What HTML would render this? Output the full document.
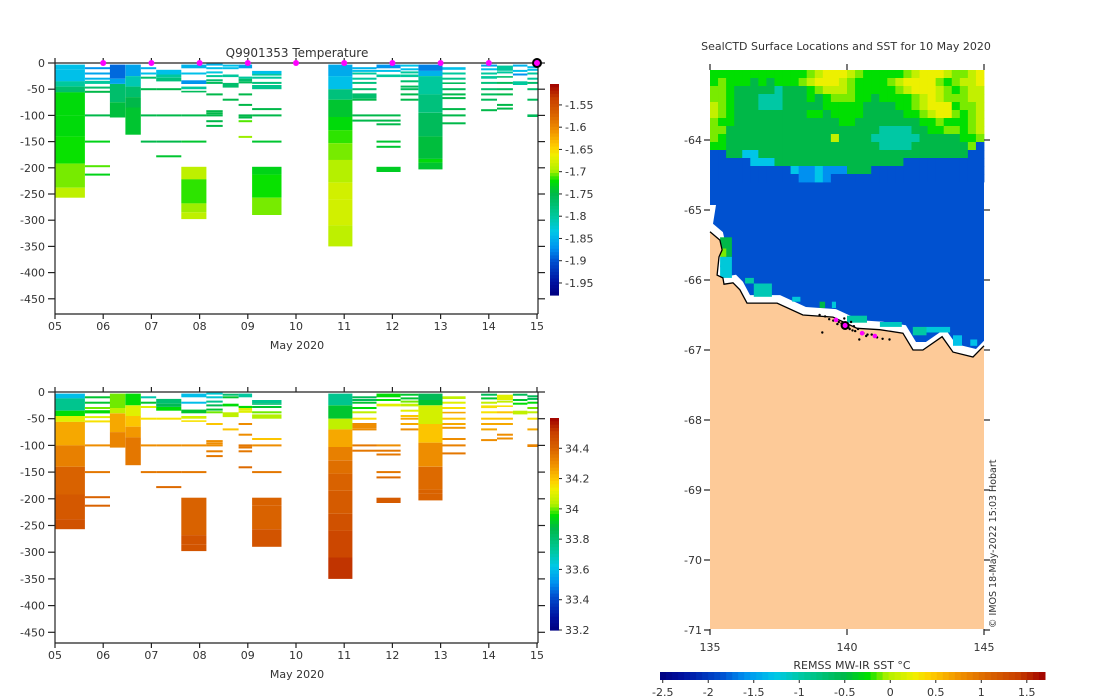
<!DOCTYPE html>
<html><head><meta charset="utf-8">
<style>
html,body{margin:0;padding:0;background:#fff;}
svg{display:block;font-family:"DejaVu Sans","Liberation Sans",sans-serif;}
text{fill:#333;font-size:11px;}
</style></head>
<body>
<svg id="fig" width="1100" height="700" viewBox="0 0 1100 700" xmlns="http://www.w3.org/2000/svg">
<g id="temp-chart"></g>
<g id="sal-chart"></g>
<g id="map"></g>
<text x="297" y="57" text-anchor="middle" style="font-size:12px">Q9901353  Temperature</text>
<text x="297" y="349" text-anchor="middle">May 2020</text>
<text x="297" y="678" text-anchor="middle">May 2020</text>
<text x="846" y="50" text-anchor="middle">SealCTD Surface Locations and SST for 10 May 2020</text>
<text x="852" y="669" text-anchor="middle">REMSS MW-IR SST °C</text>
<text transform="translate(996,628) rotate(-90)" style="font-size:9.5px">© IMOS 18-May-2022 15:03 Hobart</text>
</svg>
<script>
// ---------- data ----------
const dayTicks = ["05","06","07","08","09","10","11","12","13","14","15"];
const depthTicks = [0,50,100,150,200,250,300,350,400,450];
const tempCbTicks = [-1.55,-1.6,-1.65,-1.7,-1.75,-1.8,-1.85,-1.9,-1.95];
const salCbTicks = [34.4,34.2,34,33.8,33.6,33.4,33.2];
const sstCbTicks = [-2.5,-2,-1.5,-1,-0.5,0,0.5,1,1.5];
const surfaceDays = [6,7,8,9,10,11,12,13,14];
const latTicks = [-64,-65,-66,-67,-68,-69,-70,-71];
const lonTicks = [135,140,145];
const profStart = [5.0,5.62,6.14,6.46,6.78,7.1,7.62,8.14,8.48,8.81,9.09,10.67,11.17,11.67,12.17,12.54,13.04,13.84,14.17,14.5,14.8];
const profEnd   = [5.62,6.14,6.46,6.78,7.1,7.62,8.14,8.48,8.81,9.09,9.7,11.17,11.67,12.17,12.54,13.04,13.52,14.17,14.5,14.8,15.03];
// blocks: [top, bottom, temp, sal]; thin lines: [depth, temp, sal]
const profSegs = [
 [[3,12,-1.84,33.6],[12,35,-1.84,33.75],[35,45,-1.8,33.95],[45,56,-1.77,34.1],[56,100,-1.725,34.25],[100,140,-1.725,34.33],[140,192,-1.72,34.4],[192,238,-1.705,34.43],[238,257,-1.69,34.45]],
 [[10,-1.87,33.9],[20,-1.86,33.9],[30,-1.85,34.0],[34,40,-1.8,33.95],[47,-1.77,34.1],[55,-1.75,34.15],[100,-1.75,34.3],[150,-1.73,34.35],[197,-1.71,34.4],[213,-1.73,34.4]],
 [[3,30,-1.89,34.0],[30,40,-1.86,34.05],[40,75,-1.77,34.25],[75,104,-1.745,34.32]],
 [[3,25,-1.86,33.95],[25,45,-1.81,34.1],[45,65,-1.77,34.2],[65,85,-1.75,34.28],[85,137,-1.74,34.35]],
 [[10,-1.85,33.7],[20,-1.84,33.9],[28,-1.77,34.1],[50,-1.75,34.15],[100,-1.75,34.3],[150,-1.75,34.35]],
 [[13,22,-1.84,33.8],[22,28,-1.8,33.85],[28,35,-1.78,33.95],[50,-1.75,34.15],[100,-1.75,34.3],[150,-1.75,34.35],[178,-1.74,34.38]],
 [[3,10,-1.85,33.6],[20,-1.84,33.6],[33,40,-1.87,33.9],[45,50,-1.8,34.08],[53,56,-1.76,34.15],[100,-1.75,34.3],[150,-1.74,34.35],[198,222,-1.69,34.4],[222,268,-1.715,34.4],[268,285,-1.7,34.44],[285,298,-1.69,34.44]],
 [[3,-1.85,33.65],[10,-1.84,33.65],[18,-1.83,33.75],[25,-1.8,33.85],[33,-1.77,33.9],[38,-1.76,34.0],[60,-1.75,34.2],[92,-1.75,34.3],[96,-1.75,34.3],[100,-1.75,34.3],[111,-1.75,34.33],[120,-1.75,34.35]],
 [[5,-1.84,33.8],[10,-1.84,33.9],[22,27,-1.8,33.95],[38,47,-1.77,34.05],[70,-1.75,34.2]],
 [[3,10,-1.86,33.72],[26,30,-1.8,33.95],[30,35,-1.77,34.1],[37,-1.76,34.1],[60,-1.75,34.3],[80,-1.75,34.3],[100,-1.75,34.35],[104,-1.75,34.35],[111,-1.71,34.35],[141,-1.7,34.38]],
 [[15,21,-1.84,33.75],[21,24,-1.8,33.8],[28,-1.8,33.9],[38,-1.78,34.0],[42,50,-1.79,34.03],[88,-1.75,34.2],[100,-1.75,34.3],[150,-1.74,34.35],[198,213,-1.73,34.4],[213,257,-1.72,34.4],[257,290,-1.705,34.44]],
 [[3,25,-1.855,33.75],[25,50,-1.84,33.9],[50,70,-1.78,34.05],[70,103,-1.74,34.25],[103,128,-1.725,34.33],[128,153,-1.715,34.37],[153,185,-1.705,34.4],[185,228,-1.695,34.42],[228,260,-1.68,34.45],[260,310,-1.68,34.48],[310,350,-1.69,34.52]],
 [[10,-1.85,33.85],[15,-1.84,33.85],[20,-1.8,33.9],[30,-1.8,33.95],[38,-1.78,34.05],[50,-1.77,34.15],[58,68,-1.77,34.3],[70,-1.75,34.3],[100,-1.75,34.35],[110,-1.75,34.35]],
 [[3,10,-1.87,33.95],[15,-1.84,33.95],[22,27,-1.8,34.1],[100,-1.75,34.3],[110,-1.75,34.35],[117,-1.75,34.35],[150,-1.74,34.35],[160,-1.74,34.38],[198,208,-1.735,34.42]],
 [[5,-1.84,33.9],[12,-1.84,33.9],[18,-1.8,34.0],[22,27,-1.8,34.05],[35,-1.77,34.1],[45,-1.76,34.2],[50,-1.76,34.25],[60,-1.75,34.25],[70,-1.75,34.3]],
 [[3,15,-1.88,33.85],[15,25,-1.85,33.9],[25,60,-1.8,34.08],[60,95,-1.78,34.2],[95,140,-1.76,34.3],[140,183,-1.745,34.38],[183,190,-1.725,34.4],[190,203,-1.74,34.4]],
 [[8,13,-1.84,34.05],[20,-1.8,34.1],[30,-1.79,34.15],[37,40,-1.76,34.25],[50,-1.76,34.2],[60,-1.75,34.25],[67,-1.75,34.28],[88,-1.75,34.3],[100,-1.75,34.33],[115,-1.75,34.35]],
 [[5,-1.86,33.85],[12,-1.84,33.9],[20,-1.8,34.05],[25,30,-1.8,34.15],[38,-1.78,34.15],[50,-1.77,34.2],[60,-1.76,34.25],[70,-1.76,34.25],[90,-1.75,34.3]],
 [[5,15,-1.8,34.1],[18,-1.8,34.05],[25,28,-1.77,34.15],[38,-1.76,34.2],[50,-1.76,34.2],[60,-1.75,34.25],[80,-1.75,34.3],[87,-1.75,34.3]],
 [[5,-1.85,33.85],[15,-1.84,33.9],[22,-1.87,33.95],[35,42,-1.8,34.05]],
 [[8,-1.84,33.85],[13,-1.84,33.85],[20,-1.8,33.95],[30,-1.8,34.0],[38,-1.77,34.05],[50,-1.77,34.15],[70,-1.76,34.25],[98,103,-1.76,34.32]]
];
// SST grid (codes) over lon 135..145, lat from -63 downward
const sstCodeVals = [-1.85,-1.6,-1.28,-0.98,-0.5,-0.25,-0.1,0.05,0.25];
const sstRows = [
 "5555555555556788876555556788876678",
 "5655545455567888765555678888656778",
 "6654444434445677765555567888765677",
 "6654443334445456665545555678766677",
 "7654443334444455555444455678885667",
 "7654444444445545555444445567886567",
 "6554444444444444554444444455655567",
 "6644444444444444444443333445566567",
 "6544444444444447444433333344444556",
 "5544444444444444444443333444444460",
 "0044224444444444444444444444444400",
 "0000022244444444444444440000000000",
 "0000000000211211144400000000000000",
 "0000000000011210000000000000000000"
];
const oceanVal = -1.85;
// coastal cells: [lon0, lon1, lat0, lat1, sst]
const coastCells = [
 [135.37,135.8,-65.39,-65.55,-0.5],[135.37,135.6,-65.55,-65.67,-0.1],[135.6,135.8,-65.55,-65.67,-0.5],
 [135.37,135.8,-65.67,-65.97,-1.2],[136.28,136.6,-65.97,-66.05,-0.98],[136.6,137.26,-66.05,-66.24,-1.05],
 [138.0,138.3,-66.24,-66.31,-1.2],[139.0,139.2,-66.31,-66.4,-0.5],[139.45,139.6,-66.31,-66.4,-1.2],
 [140.0,140.73,-66.51,-66.61,-0.98],[141.2,142.0,-66.6,-66.67,-1.1],[142.4,142.9,-66.67,-66.79,-0.98],
 [142.9,143.76,-66.67,-66.75,-1.2],[143.87,144.2,-66.79,-66.94,-1.3],[144.5,144.75,-66.85,-66.94,-1.3]
];
// coastline (lon, lat)
const coastLon = [135,135.36,135.44,135.33,135.26,135.47,135.51,135.84,136.09,136.35,137.45,138.39,139.49,140.37,141.2,142.04,142.41,142.77,143.47,143.87,144.6,145];
const coastLat = [-65.31,-65.43,-65.57,-65.67,-65.93,-65.97,-66.06,-66.04,-66.14,-66.33,-66.33,-66.5,-66.53,-66.69,-66.71,-66.76,-67.0,-67.0,-66.81,-67.03,-67.1,-66.94];
const dotLon = [139.0,139.2,139.35,139.5,139.7,139.8,139.85,140.05,140.1,140.2,140.3,140.4,140.6,140.7,140.9,141.1,141.3,139.1,140.45,139.9,140.15,140.75,141.55,139.65,140.25];
const dotLat = [-66.5,-66.52,-66.56,-66.58,-66.6,-66.62,-66.66,-66.68,-66.7,-66.72,-66.73,-66.7,-66.76,-66.8,-66.78,-66.82,-66.84,-66.75,-66.85,-66.55,-66.6,-66.78,-66.85,-66.63,-66.66];
const surfLon = [139.6,139.93,140.55,141.02];
const surfLat = [-66.57,-66.65,-66.76,-66.8];

// ---------- helpers ----------
const NS = "http://www.w3.org/2000/svg";
const stops = [[0,[0,0,128]],[0.06,[0,16,160]],[0.16,[0,80,208]],[0.22,[0,144,240]],[0.3,[0,200,232]],[0.37,[0,200,160]],[0.48,[0,184,72]],[0.54,[0,224,0]],[0.59,[176,240,0]],[0.66,[240,240,0]],[0.7,[255,208,0]],[0.78,[240,144,0]],[0.86,[216,96,0]],[0.93,[200,64,0]],[1,[160,0,0]]];
function cmap(t){
  t=Math.max(0,Math.min(1,t));
  for(let i=1;i<stops.length;i++){
    if(t<=stops[i][0]){
      const a=stops[i-1],b=stops[i],f=(t-a[0])/(b[0]-a[0]);
      const c=a[1].map((v,k)=>Math.round(v+(b[1][k]-v)*f));
      return "rgb("+c.join(",")+")";
    }
  }
  return "rgb(160,0,0)";
}
function el(parent,tag,attrs){
  const e=document.createElementNS(NS,tag);
  for(const k in attrs) e.setAttribute(k,attrs[k]);
  parent.appendChild(e); return e;
}
function txt(parent,x,y,s,anchor){
  const t=el(parent,"text",{x:x,y:y,"text-anchor":anchor||"middle"});
  t.textContent=s; return t;
}

// ---------- profile charts ----------
function drawProfileChart(gid, y0, pxPer50, vmin, vmax, which, cbTop, cbBot, cbTicks){
  const g=document.getElementById(gid);
  const xS=d=>55+(d-5)*48.2;
  const yS=m=>y0+m*pxPer50/50;
  const cS=v=>cmap((v-vmin)/(vmax-vmin));
  const bottom=y0+251;
  profSegs.forEach((segs,i)=>{
    const x0=xS(profStart[i]), x1=xS(profEnd[i]);
    segs.forEach(s=>{
      let top,h,v;
      if(s.length===4){top=yS(s[0]);h=yS(s[1])-yS(s[0]);v=which===0?s[2]:s[3];}
      else{top=yS(s[0])-1;h=2;v=which===0?s[1]:s[2];}
      const r=el(g,"rect",{x:x0.toFixed(1),y:top.toFixed(1),width:(x1-x0).toFixed(1),height:h.toFixed(1),fill:cS(v)});
      
      
    });
  });
  const ax=el(g,"g",{stroke:"#222","stroke-width":"1.2",fill:"none"});
  
  
  el(ax,"line",{x1:55,y1:y0,x2:538,y2:y0});
  el(ax,"line",{x1:55,y1:y0,x2:55,y2:bottom});
  el(ax,"line",{x1:55,y1:bottom,x2:538,y2:bottom});
  el(ax,"line",{x1:538,y1:y0,x2:538,y2:bottom});
  dayTicks.forEach((d,i)=>{
    const x=xS(5+i);
    el(ax,"line",{x1:x,y1:bottom,x2:x,y2:bottom+5});
    el(ax,"line",{x1:x,y1:y0,x2:x,y2:y0-5});
    const t=txt(g,x,bottom+16,d);
    
    
  });
  depthTicks.forEach(m=>{
    const y=yS(m);
    el(ax,"line",{x1:48,y1:y,x2:55,y2:y});
    el(ax,"line",{x1:538,y1:y,x2:545,y2:y});
    const t=txt(g,45,y+4,m===0?"0":"-"+m,"end");
    
    
  });
  const cb=el(g,"g",{});
  
  
  const n=64,hh=(cbBot-cbTop)/n;
  for(let k=0;k<n;k++){
    el(cb,"rect",{x:550,y:(cbTop+k*hh).toFixed(2),width:9,height:(hh+0.6).toFixed(2),fill:cmap(1-(k+0.5)/n)});
  }
  cbTicks.forEach(v=>{
    const y=cbBot-(v-vmin)/(vmax-vmin)*(cbBot-cbTop);
    el(cb,"line",{x1:559,y1:y,x2:562,y2:y,stroke:"#222"});
    const t=txt(cb,565,y+4,String(v),"start");
    
    
  });
  return {xS,yS};
}
const tc=drawProfileChart("temp-chart",63,26.2,-1.977,-1.503,0,84,295,tempCbTicks);
drawProfileChart("sal-chart",392,26.7,33.2,34.6,1,418,630,salCbTicks);
(function(){
  const g=document.getElementById("temp-chart");
  surfaceDays.forEach(d=>{
    const c=el(g,"circle",{cx:tc.xS(d),cy:63,r:3,fill:"#ff00ff"});
    
    
  });
  const c=el(g,"circle",{cx:tc.xS(15),cy:63,r:4,fill:"#ff00ff",stroke:"#000","stroke-width":2});
  
  
})();

// ---------- map ----------
(function(){
  const g=document.getElementById("map");
  const X=lon=>710+(lon-135)*27.4;
  const Y=lat=>70+(-63-lat)*70;
  const sstMin=-2.53,sstMax=1.70;
  const sc=v=>cmap((v-sstMin)/(sstMax-sstMin));
  const ocean=el(g,"rect",{x:710,y:70,width:274,height:290,fill:sc(oceanVal)});
  
  
  const cw=274/34, ch=8;
  sstRows.forEach((row,r)=>{
    for(let c=0;c<34;c++){
      const code=+(row[c]||row[row.length-1]);
      const cell=el(g,"rect",{x:(710+c*cw).toFixed(2),y:70+r*ch,width:(cw+0.4).toFixed(2),height:ch+0.4,fill:sc(sstCodeVals[code])});
      
      
    }
  });
  let wp="710,205 716,205 ";
  coastLon.forEach((lo,i)=>{wp+=(X(lo)+3).toFixed(1)+","+(Y(coastLat[i])-8).toFixed(1)+" ";});
  wp+="984,"+(Y(coastLat[coastLat.length-1])-8)+" 984,629 710,629";
  const ws=el(g,"polygon",{points:wp,fill:"#fff"});
  
  
  coastCells.forEach(c=>{
    const cell=el(g,"rect",{x:X(c[0]).toFixed(1),y:Y(c[2]).toFixed(1),width:(X(c[1])-X(c[0])).toFixed(1),height:(Y(c[3])-Y(c[2])).toFixed(1),fill:sc(c[4])});
    
    
  });
  let lp="";
  coastLon.forEach((lo,i)=>{lp+=X(lo).toFixed(1)+","+Y(coastLat[i]).toFixed(1)+" ";});
  const land=el(g,"polygon",{points:lp+"984,629 710,629",fill:"#fdca98"});
  
  
  const cl=el(g,"polyline",{points:lp,fill:"none",stroke:"#000","stroke-width":1.3});
  
  
  dotLon.forEach((lo,i)=>{
    const d=el(g,"circle",{cx:X(lo).toFixed(1),cy:Y(dotLat[i]).toFixed(1),r:1.2,fill:"#000"});
    
    
  });
  surfLon.forEach((lo,i)=>{
    const big=i===1;
    const d=el(g,"circle",{cx:X(lo).toFixed(1),cy:Y(surfLat[i]).toFixed(1),r:big?3.5:2.3,fill:"#ff00ff",stroke:big?"#000":"none","stroke-width":2});
    
    
  });
  const ax=el(g,"g",{stroke:"#222","stroke-width":1.2});
  
  
  latTicks.forEach(la=>{
    const y=Y(la);
    el(ax,"line",{x1:984,y1:y,x2:990,y2:y});
    el(ax,"line",{x1:704,y1:y,x2:710,y2:y});
    const t=txt(g,702,y+4,String(la),"end");
    
    
  });
  lonTicks.forEach(lo=>{
    const x=X(lo);
    el(ax,"line",{x1:x,y1:629,x2:x,y2:635});
    el(ax,"line",{x1:x,y1:64,x2:x,y2:70});
    const t=txt(g,x,651,String(lo));
    
    
  });
  const cb=el(g,"g",{});
  
  
  const n=64,w=385/n;
  for(let k=0;k<n;k++){
    el(cb,"rect",{x:(660+k*w).toFixed(2),y:672,width:(w+0.5).toFixed(2),height:8,fill:cmap((k+0.5)/n)});
  }
  sstCbTicks.forEach(v=>{
    const x=660+(v-sstMin)/(sstMax-sstMin)*385;
    el(cb,"line",{x1:x,y1:680,x2:x,y2:683,stroke:"#222"});
    const t=txt(cb,x,696,String(v));
    
    
  });
})();
</script>
</body></html>
